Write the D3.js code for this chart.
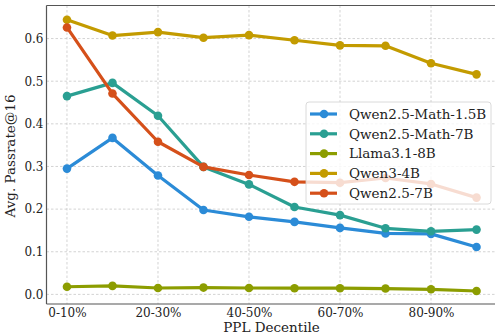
<!DOCTYPE html>
<html>
<head>
<meta charset="utf-8">
<script src="https://cdn.jsdelivr.net/npm/d3@7"></script>
<style>
  html, body { margin: 0; padding: 0; background: #fff; }
  svg { display: block; }
  text { font-family: "DejaVu Serif", serif; fill: #222; }
</style>
</head>
<body>
<svg id="chart" width="495" height="336"></svg>
<script>
// PPL decile buckets (x positions) and the labels shown on every other tick
const deciles = ["0-10%", "10-20%", "20-30%", "30-40%", "40-50%", "50-60%", "60-70%", "70-80%", "80-90%", "90-100%"];
const xTickLabels = ["0-10%", "20-30%", "40-50%", "60-70%", "80-90%"];
const yTicks = [0.0, 0.1, 0.2, 0.3, 0.4, 0.5, 0.6];

// Average passrate@16 per decile, one array per model
const qwenMath15B = [0.295, 0.367, 0.279, 0.198, 0.182, 0.170, 0.156, 0.143, 0.142, 0.111];
const qwenMath7B  = [0.465, 0.496, 0.419, 0.299, 0.258, 0.205, 0.186, 0.155, 0.148, 0.152];
const llama8B     = [0.018, 0.020, 0.015, 0.016, 0.015, 0.0145, 0.0145, 0.0137, 0.012, 0.008];
const qwen3_4B    = [0.644, 0.607, 0.615, 0.602, 0.608, 0.596, 0.584, 0.583, 0.542, 0.516];
const qwen25_7B   = [0.626, 0.471, 0.358, 0.299, 0.280, 0.264, 0.262, 0.273, 0.259, 0.227];

const seriesNames  = ["Qwen2.5-Math-1.5B", "Qwen2.5-Math-7B", "Llama3.1-8B", "Qwen3-4B", "Qwen2.5-7B"];
const seriesColors = ["#2b8bd7", "#2a9f92", "#8c9d00", "#c39b00", "#d5501a"];
const seriesValues = [qwenMath15B, qwenMath7B, llama8B, qwen3_4B, qwen25_7B];

const svg = d3.select("#chart");
const plot = { left: 46.5, top: 5.5, right: 497, bottom: 304 };

const x = d3.scaleLinear().domain([-0.45, 9.45]).range([plot.left, plot.right]);
const y = d3.scaleLinear().domain([-0.0225, 0.6775]).range([plot.bottom, plot.top]);

// dashed grid
const grid = svg.append("g");
grid.selectAll("line.gy").data(yTicks).join("line")
  .attr("x1", plot.left).attr("x2", plot.right)
  .attr("y1", d => y(d)).attr("y2", d => y(d))
  .attr("stroke", "#c8c8c8").attr("stroke-width", 0.8).attr("stroke-dasharray", "2.5,2");
grid.selectAll("line.gx").data(xTickLabels).join("line")
  .attr("x1", d => x(deciles.indexOf(d))).attr("x2", d => x(deciles.indexOf(d)))
  .attr("y1", plot.top).attr("y2", plot.bottom)
  .attr("stroke", "#c8c8c8").attr("stroke-width", 0.8).attr("stroke-dasharray", "2.5,2");

// axes
const xAxis = d3.axisBottom(x)
  .tickValues(xTickLabels.map(l => deciles.indexOf(l)))
  .tickFormat(i => deciles[i]).tickSize(0).tickPadding(4.5);
const yAxis = d3.axisLeft(y).tickValues(yTicks).tickFormat(d3.format(".1f")).tickSize(0).tickPadding(3);

const gx = svg.append("g").attr("transform", `translate(0,${plot.bottom})`).call(xAxis);
const gy = svg.append("g").attr("transform", `translate(${plot.left},0)`).call(yAxis);
[gx, gy].forEach(g => {
  g.select(".domain").remove();
  g.selectAll("text").style("font-family", "DejaVu Serif").style("font-size", "12px").attr("fill", "#222");
});

// frame spines
svg.append("line").attr("x1", plot.left).attr("x2", plot.left).attr("y1", plot.top).attr("y2", plot.bottom)
  .attr("stroke", "#555").attr("stroke-width", 1.2);
svg.append("line").attr("x1", plot.left).attr("x2", plot.right).attr("y1", plot.bottom).attr("y2", plot.bottom)
  .attr("stroke", "#555").attr("stroke-width", 1.2);
svg.append("line").attr("x1", plot.left).attr("x2", plot.right).attr("y1", plot.top).attr("y2", plot.top)
  .attr("stroke", "#555").attr("stroke-width", 1.2);

// series lines with markers
const line = d3.line().x((d, i) => x(i)).y(d => y(d));
seriesValues.forEach((vals, k) => {
  const g = svg.append("g");
  g.append("path").datum(vals).attr("d", line)
    .attr("fill", "none").attr("stroke", seriesColors[k]).attr("stroke-width", 3.2)
    .attr("stroke-linejoin", "round");
  g.selectAll("circle").data(vals).join("circle")
    .attr("cx", (d, i) => x(i)).attr("cy", d => y(d)).attr("r", 4.3)
    .attr("fill", seriesColors[k]);
});

// axis titles
svg.append("text").attr("x", 271.5).attr("y", 332)
  .attr("text-anchor", "middle").style("font-size", "13.5px").text("PPL Decentile");
svg.append("text").attr("transform", `translate(15,156) rotate(-90)`)
  .attr("text-anchor", "middle").style("font-size", "13.5px").text("Avg. Passrate@16");

// legend
const leg = svg.append("g").attr("transform", "translate(306,102)");
leg.append("rect").attr("width", 185).attr("height", 102).attr("rx", 3)
  .attr("fill", "#fff").attr("fill-opacity", 0.8).attr("stroke", "#d0d0d0").attr("stroke-width", 0.8);
seriesNames.forEach((name, k) => {
  const yy = 12 + k * 19.8;
  leg.append("line").attr("x1", 4).attr("x2", 31).attr("y1", yy).attr("y2", yy)
    .attr("stroke", seriesColors[k]).attr("stroke-width", 3.2);
  leg.append("circle").attr("cx", 18).attr("cy", yy).attr("r", 4.3).attr("fill", seriesColors[k]);
  leg.append("text").attr("x", 43).attr("y", yy).attr("dy", "0.35em")
    .style("font-size", "13.5px").text(name);
});
</script>
</body>
</html>
